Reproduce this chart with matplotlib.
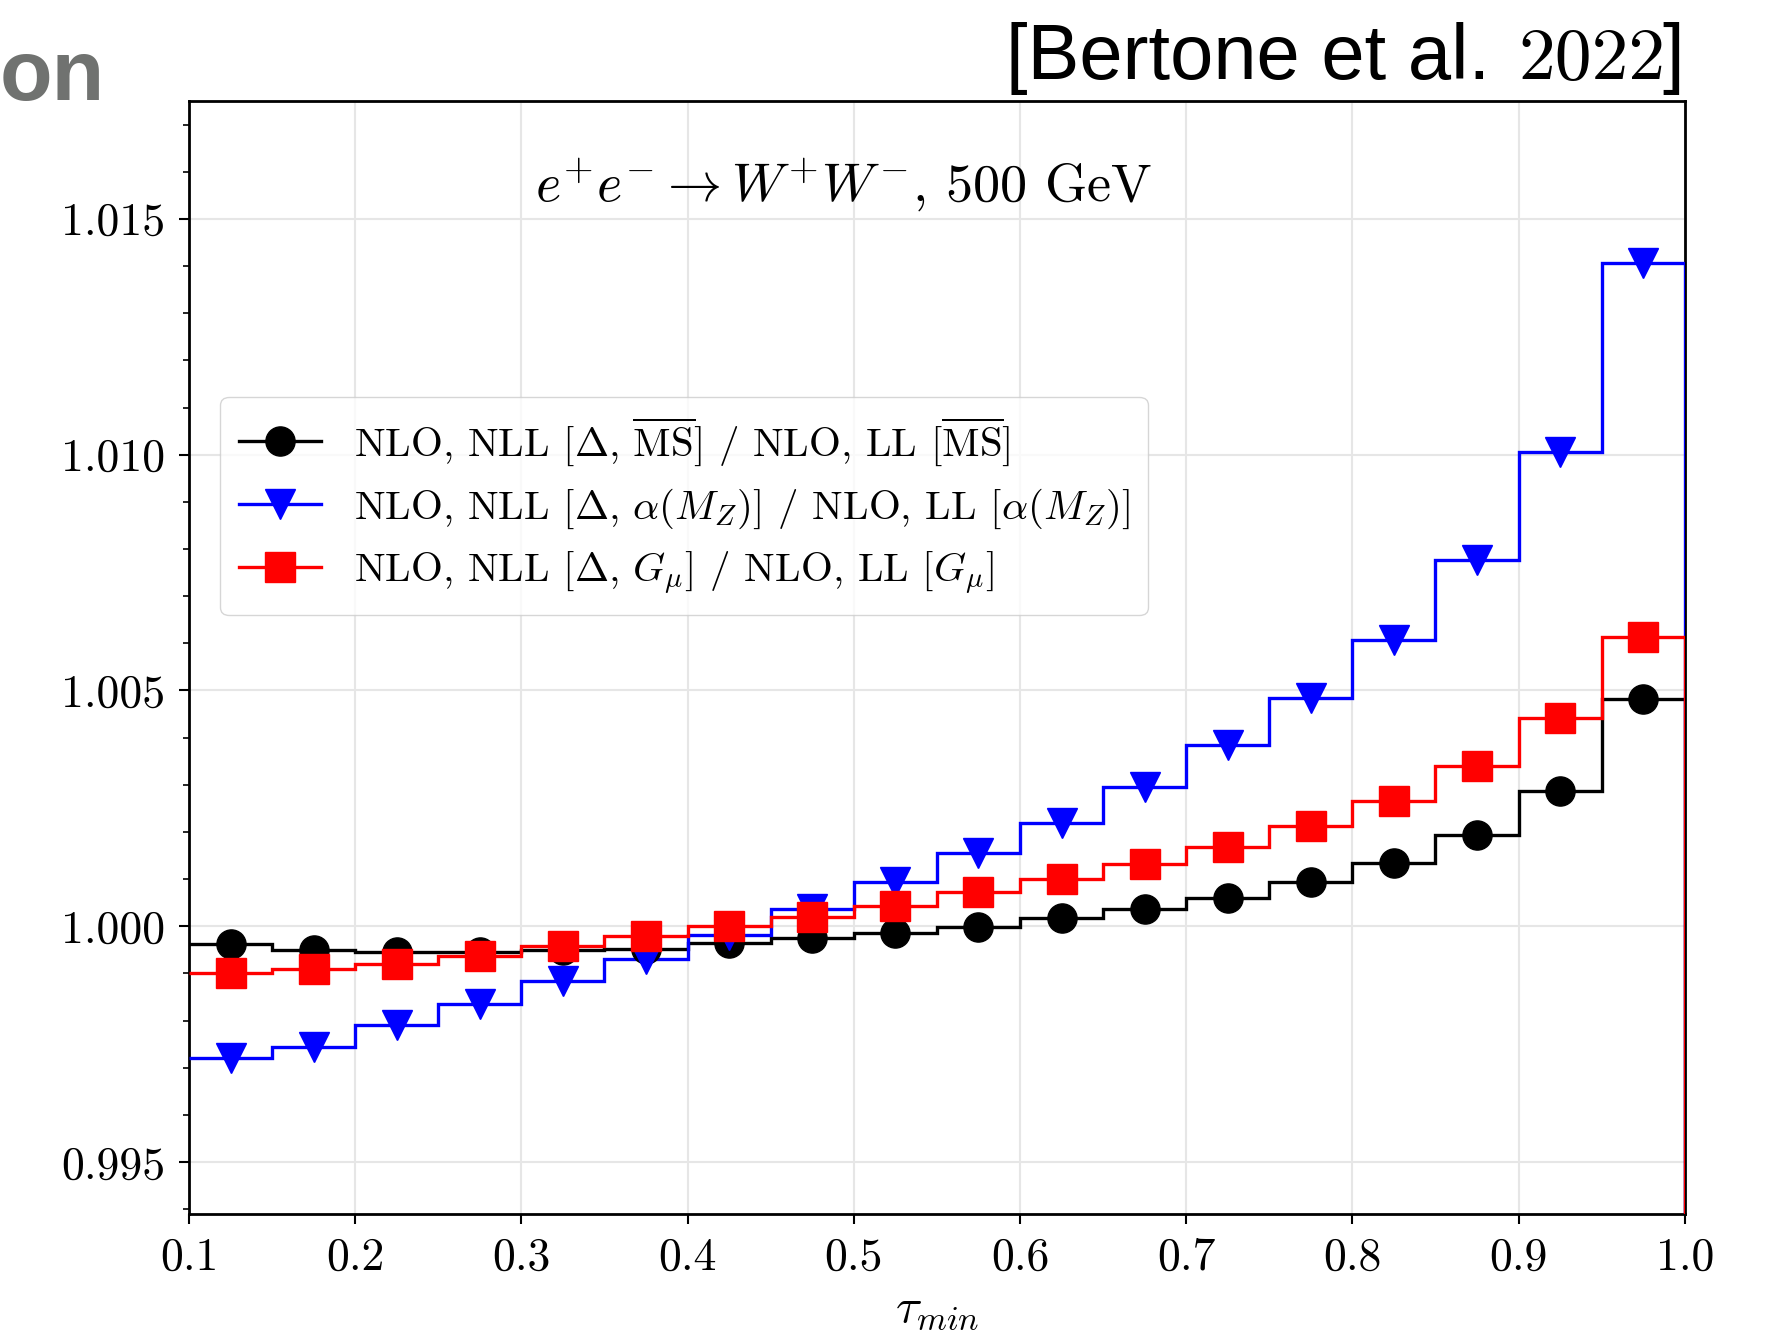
import numpy as np
import matplotlib
matplotlib.use("Agg")
import matplotlib.pyplot as plt
from matplotlib.ticker import MultipleLocator, FormatStrFormatter

# bin edges in tau_min and ratio values per bin
edges = np.arange(0.10, 1.0001, 0.05)
centers = 0.5 * (edges[:-1] + edges[1:])

ratio_msbar = [0.99962, 0.99950, 0.99945, 0.99945, 0.99950, 0.99952, 0.99964, 0.99976,
               0.99986, 0.99998, 1.00017, 1.00036, 1.00060, 1.00093, 1.00134, 1.00193,
               1.00286, 1.00482]
ratio_alpha_mz = [0.99721, 0.99745, 0.99790, 0.99835, 0.99883, 0.99931, 0.99981, 1.00036,
                  1.00093, 1.00155, 1.00219, 1.00296, 1.00384, 1.00484, 1.00608, 1.00777,
                  1.01006, 1.01407]
ratio_gmu = [0.99900, 0.99909, 0.99919, 0.99938, 0.99959, 0.99979, 1.00000, 1.00019,
             1.00043, 1.00072, 1.00100, 1.00131, 1.00169, 1.00212, 1.00265, 1.00339,
             1.00441, 1.00613]

labels = [
    r"NLO, NLL $[\Delta,\,\overline{\rm MS}]$ / NLO, LL $[\overline{\rm MS}]$",
    r"NLO, NLL $[\Delta,\,\alpha(M_Z)]$ / NLO, LL $[\alpha(M_Z)]$",
    r"NLO, NLL $[\Delta,\,G_\mu]$ / NLO, LL $[G_\mu]$",
]

plt.rcParams["font.family"] = "serif"
plt.rcParams["font.serif"] = ["cmr10"]
plt.rcParams["mathtext.fontset"] = "cm"
plt.rcParams["axes.formatter.use_mathtext"] = True

fig = plt.figure(figsize=(17.66, 13.43), dpi=100)
ax = fig.add_axes([0.107, 0.0961, 0.847, 0.8287])

ymin, ymax = 0.9939, 1.0175
series = [
    (ratio_msbar, "black", "o"),
    (ratio_alpha_mz, "blue", "v"),
    (ratio_gmu, "red", "s"),
]
for (vals, col, mk), lab in zip(series, labels):
    ax.stairs(vals, edges, baseline=None, color=col, lw=2.4, zorder=3)
    # histogram outline drops at the upper edge
    ax.vlines(edges[-1], ymin - 0.001, vals[-1], color=col, lw=2.4, zorder=3)
    ax.plot(centers, vals, ls="none", marker=mk, ms=21, color=col, zorder=4)
    ax.plot([], [], color=col, lw=2.4, marker=mk, ms=21, label=lab)

ax.set_xlim(0.1, 1.0)
ax.set_ylim(ymin, ymax)
ax.xaxis.set_major_locator(MultipleLocator(0.1))
ax.yaxis.set_major_locator(MultipleLocator(0.005))
ax.yaxis.set_minor_locator(MultipleLocator(0.001))
ax.xaxis.set_major_formatter(FormatStrFormatter("%.1f"))
ax.yaxis.set_major_formatter(FormatStrFormatter("%.3f"))
ax.tick_params(axis="both", which="major", labelsize=33, length=7, width=1.5)
ax.tick_params(axis="x", which="major", pad=10)
ax.tick_params(axis="y", which="major", pad=10)
ax.tick_params(axis="y", which="minor", length=4, width=1.2)
ax.grid(True, which="major", color="#e6e6e6", lw=1.5, zorder=0)
for s in ax.spines.values():
    s.set_linewidth(2.0)

ax.set_xlabel(r"$\tau_{min}$", fontsize=35, labelpad=6)
ax.text(0.438, 0.924, r"$e^{+}e^{-} \to W^{+}W^{-}$, 500 GeV", transform=ax.transAxes,
        ha="center", va="center", fontsize=39)

ax.legend(loc="upper left", bbox_to_anchor=(0.021, 0.734), borderaxespad=0,
          fontsize=29.5, frameon=True, fancybox=True, edgecolor="#cccccc",
          handlelength=2.0, labelspacing=0.45, borderpad=0.45)

# slide fragments around the figure
fig.text(0, 1 - 100 / 1343, "on", ha="left", va="baseline", fontsize=62,
         fontweight="bold", color="#707270", family="Liberation Sans")
fig.text(1006 / 1766, 1 - 79 / 1343, "[Bertone et al.", ha="left", va="baseline",
         fontsize=56, color="black", family="Liberation Sans")
fig.text(1518 / 1766, 1 - 79 / 1343, "2022", ha="left", va="baseline",
         fontsize=53, color="black")
fig.text(1684 / 1766, 1 - 79 / 1343, "]", ha="right", va="baseline",
         fontsize=56, color="black", family="Liberation Sans")

fig.savefig("out.png", dpi=100)
